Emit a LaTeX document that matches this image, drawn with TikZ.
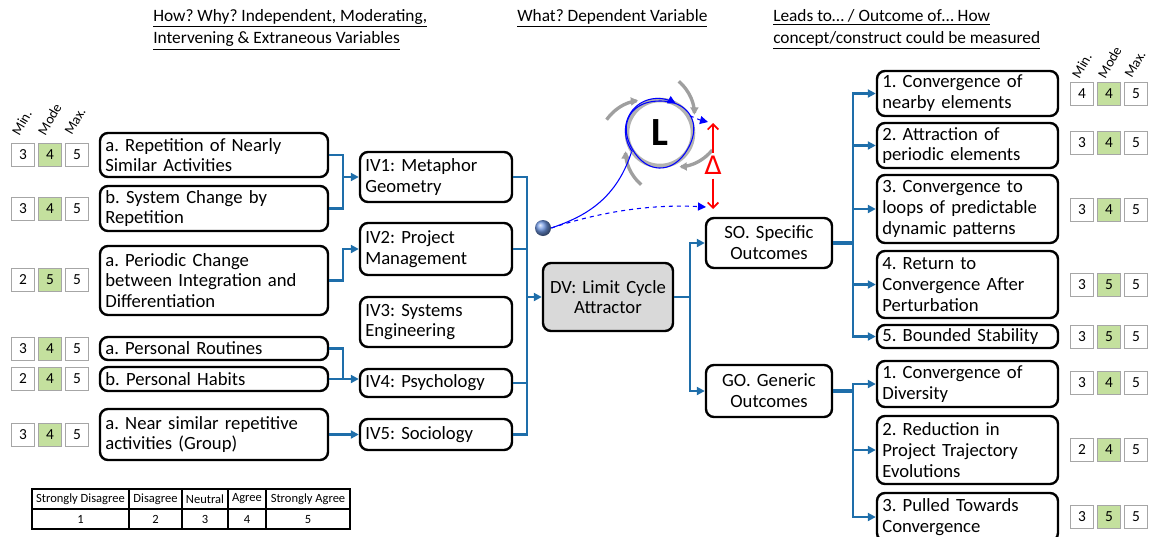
\documentclass[tikz,border=0pt]{standalone}
\usepackage{fontspec}
\setmainfont{Carlito}
\newfontfamily\symbolfont{DejaVu Sans}
\usetikzlibrary{arrows.meta}
\frenchspacing

\definecolor{linkblue}{RGB}{30,110,170}
\definecolor{modegreen}{RGB}{196,224,158}
\definecolor{dvgray}{RGB}{217,217,217}
\definecolor{ballblue}{RGB}{110,150,225}

\newcommand\boxfont{\fontsize{14}{15.6}\selectfont}
\newcommand\headfont{\fontsize{13}{17}\selectfont}
\newcommand\axisfont{\fontsize{10.5}{12}\selectfont}

\tikzset{
  box/.style={draw=black, line width=1.8pt, rounded corners=6pt, fill=white,
    inner xsep=3pt, inner ysep=0pt, align=left, font=\boxfont},
  link/.style={draw=linkblue, line width=1.6pt},
  trunk/.style={draw=linkblue, line width=2.6pt},
  tip/.style={-{Triangle[length=6pt,width=6pt]}},
  score/.style={draw=gray!70, line width=0.8pt, minimum size=17pt, inner sep=0pt,
    font=\fontsize{11.5}{13}\selectfont},
  axis/.style={rotate=60, anchor=west, inner sep=0pt, font=\axisfont},
  head/.style={anchor=north west, align=left, inner sep=0pt, font=\headfont},
  cell/.style={inner sep=0pt, font=\fontsize{9.4}{10}\selectfont},
}

% rounded box given by its corners (in px units): [opts]{name}{x1}{y1}{x2}{y2}{text}
\newcommand\rbox[7][]{%
  \pgfmathsetmacro\bw{(#5-#3)*0.75}%
  \pgfmathsetmacro\bh{(#6-#4)*0.75}%
  \pgfmathsetmacro\tw{(#5-#3)*0.75-8}%
  \node[box, minimum width=\bw pt, minimum height=\bh pt, text width=\tw pt, #1]
    (#2) at ({(#3+#5)/2},{(#4+#6)/2}) {#7};}

% min / mode / max rating boxes: {name}{x of first box}{y}{min}{mode}{max}
\newcommand\scores[6]{%
  \node[score] (#1-min) at (#2,#3) {#4};
  \node[score, fill=modegreen] (#1-mode) at (#2+27,#3) {#5};
  \node[score] (#1-max) at (#2+54,#3) {#6};}

\begin{document}
\begin{tikzpicture}[x=0.75pt, y=-0.75pt]
\useasboundingbox (0,0) rectangle (1153,536);

% column headings
\node[head] (hIV) at (153,9) {\underline{How? Why? Independent, Moderating,}\\\underline{Intervening \& Extraneous Variables}};
\node[head] (hDV) at (517,9) {\underline{What? Dependent Variable}};
\node[head] (hOut) at (773,9) {\underline{Leads to\dots\ / Outcome of\dots\ How}\\\underline{concept/construct could be measured}};

% rating axis labels
\node[axis] (lMin) at (15,134) {Min.};
\node[axis] (lMode) at (41,134) {Mode};
\node[axis] (lMax) at (68,134) {Max.};
\node[axis] (rMin) at (1075,77) {Min.};
\node[axis] (rMode) at (1101,77) {Mode};
\node[axis] (rMax) at (1128,77) {Max.};

% indicator boxes
\rbox{L1}{100}{133}{328}{177}{a. Repetition of Nearly\\Similar Activities}
\rbox{L2}{100}{186}{328}{231}{b. System Change by\\Repetition}
\rbox{L3}{100}{246}{328}{315}{a. Periodic Change\\between Integration and\\Differentiation}
\rbox{L4}{100}{337}{328}{360}{a. Personal Routines}
\rbox{L5}{100}{367}{328}{391}{b. Personal Habits}
\rbox{L6}{100}{409}{328}{460}{a. Near similar repetitive\\activities (Group)}

\scores{sL1}{23}{155}{3}{4}{5}
\scores{sL2}{23}{209}{3}{4}{5}
\scores{sL3}{23}{280}{2}{5}{5}
\scores{sL4}{23}{349}{3}{4}{5}
\scores{sL5}{23}{379}{2}{4}{5}
\scores{sL6}{23}{435}{3}{4}{5}

% independent variables
\rbox{IV1}{360}{152}{512}{202}{IV1: Metaphor\\Geometry}
\rbox{IV2}{360}{223}{512}{275}{IV2: Project\\Management}
\rbox{IV3}{360}{297}{512}{347}{IV3: Systems\\Engineering}
\rbox{IV4}{360}{369}{512}{397}{IV4: Psychology}
\rbox{IV5}{360}{419}{512}{450}{IV5: Sociology}

% dependent variable and outcome groups
\rbox[align=center, fill=dvgray]{DV}{543}{263}{673}{331}{DV: Limit Cycle\\Attractor}
\rbox[align=center]{SO}{706}{218}{832}{268}{SO. Specific\\Outcomes}
\rbox[align=center]{GO}{706}{365}{832}{417}{GO. Generic\\Outcomes}

% outcome measures
\rbox{O1}{877}{71}{1058}{116}{1. Convergence of\\nearby elements}
\rbox{O2}{877}{123}{1058}{168}{2. Attraction of\\periodic elements}
\rbox{O3}{877}{175}{1058}{243}{3. Convergence to\\loops of predictable\\dynamic patterns}
\rbox{O4}{877}{251}{1058}{318}{4. Return to\\Convergence After\\Perturbation}
\rbox{O5}{877}{325}{1058}{348}{5. Bounded Stability}
\rbox{G1}{877}{361}{1058}{407}{1. Convergence of\\Diversity}
\rbox{G2}{877}{416}{1058}{484}{2. Reduction in\\Project Trajectory\\Evolutions}
\rbox{G3}{877}{493}{1058}{541}{3. Pulled Towards\\Convergence}

\scores{sO1}{1082}{94}{4}{4}{5}
\scores{sO2}{1082}{143}{3}{4}{5}
\scores{sO3}{1082}{210}{3}{4}{5}
\scores{sO4}{1082}{285}{3}{5}{5}
\scores{sO5}{1082}{337}{3}{5}{5}
\scores{sG1}{1082}{383}{3}{4}{5}
\scores{sG2}{1082}{450}{2}{4}{5}
\scores{sG3}{1082}{517}{3}{5}{5}

% junction points
\coordinate (j1) at (343,177);
\coordinate (j2) at (343,249);
\coordinate (j4) at (343,379);
\coordinate (jb) at (527,297);
\coordinate (jd) at (690,297);
\coordinate (js) at (853,243);
\coordinate (jg) at (853,391);

% indicators -> independent variables
\draw[link] (L1.east) -| (j1);
\draw[link] (L2.east) -| (j1);
\draw[link, tip] (j1) -- (IV1.west);
\draw[link, tip] (L3.east) -| (j2) -- (IV2.west);
\draw[link] (L4.east) -| (j4);
\draw[link, tip] (L5.east) -- (L5.east -| IV4.west);
\draw[link, tip] (L6.east) -- (IV5.west);

% independent variables -> dependent variable
\draw[link] (IV1.east) -| (jb);
\draw[link] (IV2.east) -| (jb);
\draw[link] (IV4.east) -| (jb);
\draw[link] (IV5.east) -| (jb);
\draw[link, tip] (jb) -- (DV.west);

% dependent variable -> outcome groups
\draw[link] (DV.east) -- (jd);
\draw[link, tip] (jd) |- (SO.west);
\draw[link, tip] (jd) |- (GO.west);

% outcome groups -> measures
\draw[trunk] (SO.east) -- (js);
\foreach \o in {O1,O2,O3,O4,O5} \draw[link, tip] (js) |- (\o.west);
\draw[trunk] (GO.east) -- (jg);
\foreach \o in {G1,G2,G3} \draw[link, tip] (jg) |- (\o.west);

% rating scale legend
\draw[line width=0.8pt] (32,489) rectangle (350,529);
\draw[line width=0.8pt] (32,509) -- (350,509);
\foreach \c in {129,182,228,266} \draw[line width=0.8pt] (\c,489) -- (\c,529);
\node[cell] (t1) at (80.5,499) {Strongly Disagree};
\node[cell] (t2) at (155.5,499) {Disagree};
\node[cell] (t3) at (205,499) {Neutral};
\node[cell] (t4) at (247,499) {Agree};
\node[cell] (t5) at (308,499) {Strongly Agree};
\node[cell] (v1) at (80.5,519.5) {1};
\node[cell] (v2) at (155.5,519.5) {2};
\node[cell] (v3) at (205,519.5) {3};
\node[cell] (v4) at (247,519.5) {4};
\node[cell] (v5) at (308,519.5) {5};

% limit cycle sketch
\node[circle, shading=ball, ball color=ballblue, minimum size=12pt, inner sep=0pt] (ball) at (543,228) {};
\coordinate (tipA) at (708,122);
\coordinate (tipB) at (706,207);
\draw[blue, line width=0.8pt, dashed, -{Triangle[length=6pt,width=6pt]}] (ball.east) .. controls (600,212) and (650,204) .. (tipB);
\begin{scope}[shift={(660,133)}, y=0.75pt]
  \foreach \a in {166,70,-18,-110}
    \draw[gray!75, line width=2.5pt, -{Triangle[length=5.5pt,width=6pt]}]
      plot[variable=\t, domain=0:1, samples=20] ({\a-42*\t}:{55-16*\t});
  \draw[gray!60, line width=3.4pt, fill=white] (0,0) circle[radius=24.75pt];
  \node[font=\fontsize{30}{30}\selectfont\bfseries] (L) at (0,0) {L};
  \draw[blue, line width=0.8pt] (ball.east) .. controls (-80,-85) and (-45,-70) .. (214:34.5);
  \draw[blue, line width=0.8pt, -{Triangle[length=6pt,width=6pt]}]
    plot[variable=\t, domain=214:62, samples=40] (\t:{34.5-1.2*sin(2*\t)});
  \draw[blue, line width=0.8pt]
    plot[variable=\t, domain=62:-330, samples=90] (\t:{33.5+1.5*sin(3*\t)});
  \coordinate (exitA) at (30:34.5);
\end{scope}
\draw[blue, line width=0.8pt, dashed, -{Triangle[length=6pt,width=6pt]}] (exitA) .. controls (700,120) .. (tipA);

% gap marker
\node[text=red, font=\symbolfont\fontsize{19}{19}\selectfont, inner sep=0pt] (delta) at (713,165) {Δ};
\coordinate (gapTop) at (713,123);
\coordinate (gapBot) at (713,209);
\draw[red, line width=1.3pt, -{Straight Barb[length=4pt,width=8pt]}] ([yshift=2pt]delta.north) -- (gapTop);
\draw[red, line width=1.3pt, -{Straight Barb[length=4pt,width=8pt]}] ([yshift=-3pt]delta.south) -- (gapBot);
\end{tikzpicture}
\end{document}
